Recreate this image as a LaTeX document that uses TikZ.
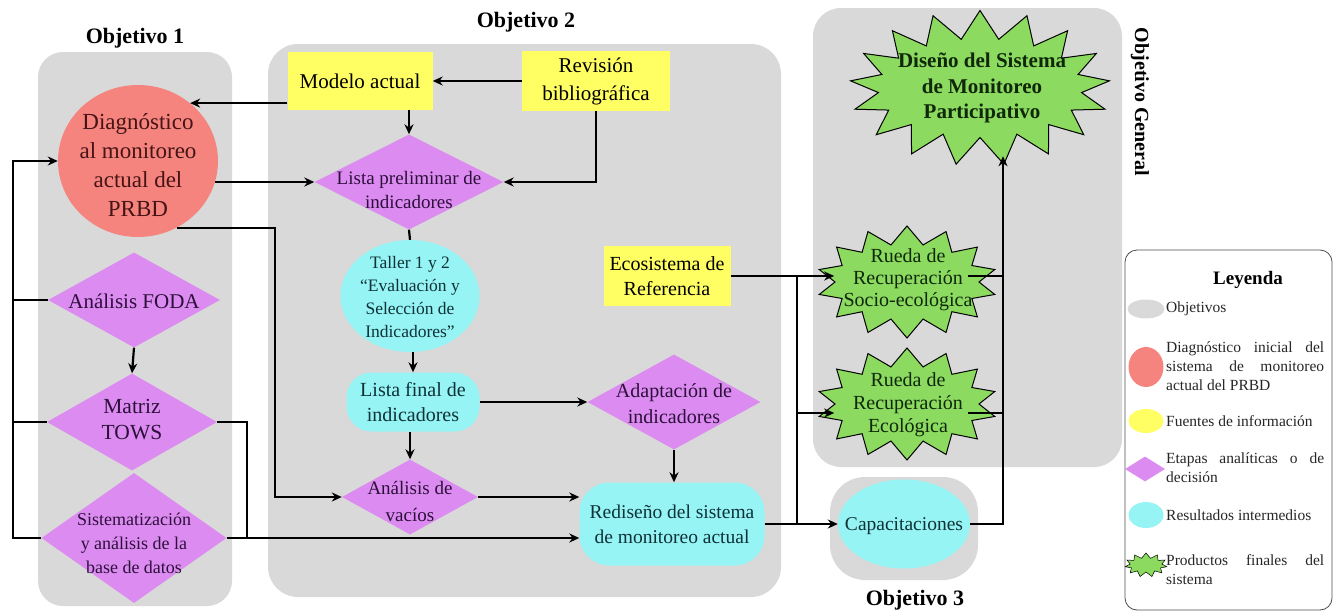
\documentclass[tikz,border=0pt]{standalone}
\usepackage{fontspec}
\setmainfont{Liberation Serif}
\usetikzlibrary{shapes.geometric,shapes.symbols,arrows.meta,calc}
\definecolor{pgray}{RGB}{217,217,217}
\definecolor{salmon}{RGB}{245,132,127}
\definecolor{yel}{RGB}{255,255,100}
\definecolor{vio}{RGB}{220,140,240}
\definecolor{cyn}{RGB}{150,244,244}
\definecolor{grn}{RGB}{140,218,96}
\definecolor{dvio}{RGB}{45,15,60}
\definecolor{dcyn}{RGB}{15,50,55}
\definecolor{dred}{RGB}{70,20,20}
\definecolor{dgrn}{RGB}{15,40,10}
\begin{document}
\begin{tikzpicture}[x=1pt,y=-1pt,
  arr/.style={line width=2.2pt,-{Stealth[length=10pt,width=9pt]}},
  ln/.style={line width=2.2pt},
  tit/.style={font=\bfseries\fontsize{22}{26}\selectfont,inner sep=0pt},
  ybox/.style={rectangle,fill=yel,inner sep=0pt,align=center,font=\fontsize{21}{28}\selectfont},
  dia/.style={diamond,fill=vio,inner sep=0pt},
  dtxt/.style={align=center,inner sep=0pt,text=dvio},
  cyo/.style={ellipse,fill=cyn,inner sep=0pt},
  cybox/.style={rectangle,fill=cyn,inner sep=0pt,align=center,text=dcyn,font=\fontsize{20}{25}\selectfont},
  ctxt/.style={align=center,inner sep=0pt,text=dcyn},
  burst/.style={starburst,starburst points=17,starburst point height=28pt,random starburst=0,fill=grn,draw=black,line width=1pt,inner sep=0pt},
  gtxt/.style={align=center,inner sep=0pt,text=dgrn},
  ltxt/.style={inner sep=0pt,font=\fontsize{15.5}{19}\selectfont,anchor=west,text=black!85},
]
\useasboundingbox (0,0) rectangle (1334,613);
% panels
\fill[pgray,rounded corners=25pt] (38,52) rectangle (232,606);
\fill[pgray,rounded corners=30pt] (268,44) rectangle (781,597);
\fill[pgray,rounded corners=28pt] (813,8) rectangle (1122,467);
\fill[pgray,rounded corners=35pt] (830,477) rectangle (978,580);
% titles
\node[tit] (t1) at (135,38) {Objetivo 1};
\node[tit] (t2) at (526,22) {Objetivo 2};
\node[tit,font=\bfseries\fontsize{20}{24}\selectfont,rotate=-90] (tG) at (1140,102) {Objetivo General};
\node[tit] (t3) at (915,600) {Objetivo 3};
% objective 1
\node[ellipse,fill=salmon,minimum width=160pt,minimum height=152pt,inner sep=0pt] (diag) at (138,161) {};
\node[dia,minimum width=172pt,minimum height=95pt] (foda) at (134,300) {};
\node[dia,minimum width=170pt,minimum height=97pt] (tows) at (132,422) {};
\node[dia,minimum width=185pt,minimum height=130pt] (sist) at (134,538) {};
% objective 2
\node[ybox,minimum width=145pt,minimum height=58pt] (modelo) at (360,81) {Modelo actual};
\node[ybox,minimum width=148pt,minimum height=60pt] (rev) at (596,81) {Revisión\\bibliográfica};
\node[dia,minimum width=189pt,minimum height=95pt] (prelim) at (409,182) {};
\node[cyo,minimum width=139pt,minimum height=112pt] (taller) at (410,296) {};
\node[cybox,rounded corners=25pt,minimum width=133pt,minimum height=59pt] (lista) at (413,402) {Lista final de\\indicadores};
\node[dia,minimum width=173pt,minimum height=95pt] (adapt) at (674,402) {};
\node[dia,minimum width=136pt,minimum height=75pt] (vacios) at (410,497) {};
\node[cybox,font=\fontsize{19.5}{25}\selectfont,rounded corners=30pt,minimum width=185pt,minimum height=83pt] (redis) at (672,524) {Rediseño del sistema\\de monitoreo actual};
\node[ybox,font=\fontsize{20}{25}\selectfont,minimum width=127pt,minimum height=60pt] (eco) at (667,276) {Ecosistema de\\Referencia};
% general / objective 3
\node[burst,minimum width=260pt,minimum height=155pt] (diseno) at (980,88) {};
\node[burst,starburst points=14,starburst point height=18pt,minimum width=180pt,minimum height=112pt] (socio) at (907,282) {};
\node[burst,starburst points=14,starburst point height=18pt,minimum width=180pt,minimum height=112pt] (ecol) at (907,404) {};
\node[cyo,minimum width=132pt,minimum height=89pt] (capac) at (904,524) {};
% texts on shapes
\node[align=center,inner sep=0pt,text=dred,font=\fontsize{23}{29}\selectfont] (diagT) at (138,165) {Diagnóstico\\al monitoreo\\actual del\\PRBD};
\node[dtxt,font=\fontsize{21}{26}\selectfont] (fodaT) at (134,301) {Análisis FODA};
\node[dtxt,font=\fontsize{21.5}{26}\selectfont] (towsT) at (132,420) {Matriz\\TOWS};
\node[dtxt,font=\fontsize{18}{24}\selectfont] (sistT) at (134,543) {Sistematización\\y análisis de la\\base de datos};
\node[dtxt,font=\fontsize{19}{24}\selectfont] (prelimT) at (409,190) {Lista preliminar de\\indicadores};
\node[ctxt,font=\fontsize{17.5}{23}\selectfont] (tallerT) at (410,297) {Taller 1 y 2\\“Evaluación y\\Selección de\\Indicadores”};
\node[dtxt,font=\fontsize{20}{26}\selectfont] (adaptT) at (674,404) {Adaptación de\\indicadores};
\node[dtxt,font=\fontsize{19}{27}\selectfont] (vaciosT) at (410,501) {Análisis de\\vacíos};
\node[gtxt,font=\bfseries\fontsize{21}{25.5}\selectfont] (disenoT) at (982,88) {Diseño del Sistema\\de Monitoreo\\Participativo};
\node[gtxt,font=\fontsize{20}{22}\selectfont] (socioT) at (908,280) {Rueda de\\Recuperación\\Socio-ecológica};
\node[gtxt,font=\fontsize{20}{23}\selectfont] (ecolT) at (908,405) {Rueda de\\Recuperación\\Ecológica};
\node[ctxt,font=\fontsize{19.5}{23}\selectfont] (capacT) at (904,526) {Capacitaciones};
% helper coordinates
\coordinate (L) at (13,0);
\coordinate (R1) at (247,0);
\coordinate (V) at (275,0);
\coordinate (M) at (797,0);
\coordinate (N) at (1003,0);
\coordinate (S2) at (0,413);
% connectors objective 1
\draw[arr] (sist.west) -- (sist.west -| L) |- (diag.west);
\draw[ln] (foda.west) -- (foda.west -| L);
\draw[ln] (tows.west) -- (tows.west -| L);
\draw[arr] (foda.south) -- (tows.north);
\draw[ln] (tows.east) -| (R1 |- sist.east);
\draw[arr] (sist.east) -- (sist.east -| redis.west);
% objective 2
\draw[arr] (modelo.west |- diag.48) -- (diag.48);
\draw[arr] (diag.-16 |- prelim.west) -- (prelim.west);
\draw[arr] (diag.-60) -| (V |- vacios.west) -- (vacios.west);
\draw[arr] (rev.west) -- (modelo.east);
\draw[arr] (modelo.south -| prelim.north) -- (prelim.north);
\draw[arr] (rev.south) |- (prelim.east);
\draw[ln] (prelim.south) -- (taller.north);
\draw[arr] (taller.south -| lista.north) -- (lista.north);
\draw[arr] (lista.south -| vacios.north) -- (vacios.north);
\draw[arr] (lista.east) -- (adapt.west);
\draw[arr] (adapt.south) -- (adapt.south |- redis.north);
\draw[arr] (vacios.east) -- (vacios.east -| redis.west);
\draw[arr] (redis.east) -- (redis.east -| capac.west);
% right side
\draw[arr] (eco.east) -- (eco.east -| socio.west);
\draw[ln] (M |- eco.east) -- (M |- redis.east);
\draw[arr] (M |- S2) -- (ecol.west |- S2);
\draw[ln] ([xshift=-12pt]socio.east |- eco.east) -- (N |- eco.east);
\draw[ln] ([xshift=-12pt]ecol.east |- S2) -- (N |- S2);
\draw[arr] (capac.east) -- (N |- capac.east) -- ($(N |- diseno.south)+(0,18)$);
% legend
\draw[rounded corners=12pt,line width=0.8pt,draw=black!70] (1125,250) rectangle (1332,610);
\node[font=\bfseries\fontsize{19}{22}\selectfont,inner sep=0pt] (leyT) at (1248,280) {Leyenda};
\node[ellipse,fill=pgray,minimum width=37pt,minimum height=19pt,inner sep=0pt] (lg1) at (1146,309) {};
\node[ltxt] (lt1) at (1166,309) {Objetivos};
\node[ellipse,fill=salmon,minimum width=35pt,minimum height=40pt,inner sep=0pt] (lg2) at (1146,367) {};
\node[ltxt,text width=158pt,align=justify] (lt2) at (1166,366) {Diagnóstico inicial del\linebreak sistema de monitoreo\linebreak actual del PRBD};
\node[ellipse,fill=yel,minimum width=35pt,minimum height=24pt,inner sep=0pt] (lg3) at (1146,421) {};
\node[ltxt] (lt3) at (1166,421) {Fuentes de información};
\node[diamond,fill=vio,minimum width=40pt,minimum height=25pt,inner sep=0pt] (lg4) at (1145,469) {};
\node[ltxt,text width=158pt,align=justify] (lt4) at (1166,468) {Etapas analíticas o de\linebreak decisión};
\node[ellipse,fill=cyn,minimum width=35pt,minimum height=26pt,inner sep=0pt] (lg5) at (1146,515) {};
\node[ltxt] (lt5) at (1166,515) {Resultados intermedios};
\node[starburst,starburst points=11,starburst point height=5pt,random starburst=0,fill=grn,draw=black,line width=0.5pt,minimum width=42pt,minimum height=24pt,inner sep=0pt] (lg6) at (1146,565) {};
\node[ltxt,text width=158pt,align=justify] (lt6) at (1166,570) {Productos finales del\linebreak sistema};
\end{tikzpicture}
\end{document}
